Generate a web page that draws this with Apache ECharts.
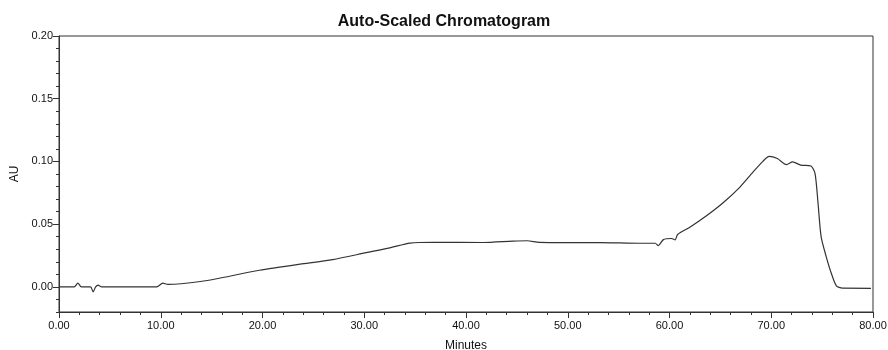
<!DOCTYPE html>
<html>
<head>
<meta charset="utf-8">
<script src="https://cdn.jsdelivr.net/npm/echarts@6/dist/echarts.min.js"></script>
<style>
  html, body { margin: 0; padding: 0; background: #fff; }
  #chart { width: 888px; height: 350px; }
</style>
</head>
<body>
<div id="chart"></div>
<script>
// retention time (minutes) and detector response (AU)
const minutes = [
  0, 1.5, 1.85, 2.2, 3.1, 3.35, 3.6, 3.85, 4.2, 6, 8, 9.6, 10.2, 10.7, 12,
  13.9, 15.5, 17.1, 18.5, 19.7, 21.5, 23.7, 26.9, 30.2, 32.5, 34.5, 36.8,
  41.7, 44.6, 46.0, 47.2, 49.9, 53.1, 57.1, 58.6, 58.9, 59.4, 60.2, 60.55,
  60.8, 62.0, 63.6, 65.3, 66.9, 68.2, 69.2, 69.8, 70.6, 71.5, 72.1, 72.9,
  73.9, 74.3, 74.6, 74.9, 75.4, 75.9, 76.4, 77.0, 79.8
]
const au = [
  0.000, 0.000, 0.003, 0.000, 0.000, -0.004, 0.000, 0.0015, 0.000, 0.000, 0.000, 0.000, 0.003, 0.002, 0.0025,
  0.0043, 0.0065, 0.0091, 0.0115, 0.0133, 0.0155, 0.0181, 0.0218, 0.0273, 0.0311, 0.0349, 0.0356,
  0.0354, 0.0365, 0.0368, 0.0355, 0.0353, 0.0353, 0.0348, 0.0348, 0.0329, 0.0377, 0.0386, 0.0375,
  0.0418, 0.0476, 0.0565, 0.0673, 0.0794, 0.0915, 0.1003, 0.1041, 0.1023, 0.0975, 0.0997, 0.0971,
  0.0964, 0.0905, 0.0666, 0.0401, 0.0242, 0.0109, 0.0009, -0.0010, -0.0011
]
const yMajorTicks = [0, 0.05, 0.1, 0.15, 0.2]

const textColor = '#111'
const lineColor = '#333'
const font = 'Liberation Sans, Arial, sans-serif'

const myChart = echarts.init(document.getElementById('chart'))

const option = {
  animation: false,
  backgroundColor: '#fff',
  title: {
    text: 'Auto-Scaled Chromatogram',
    left: 'center',
    top: 9,
    textStyle: {
      color: textColor,
      fontFamily: font,
      fontSize: 16,
      fontWeight: 'bold'
    }
  },
  grid: {
    left: 59,
    right: 15,
    top: 36,
    bottom: 38,
    outerBoundsMode: 'none',
    show: true,
    borderColor: lineColor,
    borderWidth: 1
  },
  xAxis: {
    type: 'value',
    min: 0,
    max: 80,
    interval: 10,
    name: 'Minutes',
    nameLocation: 'middle',
    nameGap: 28,
    nameTextStyle: { color: textColor, fontFamily: font, fontSize: 12 },
    axisLine: { show: true, onZero: false, lineStyle: { color: lineColor } },
    axisTick: { show: true, length: 6, lineStyle: { color: lineColor } },
    minorTick: { show: true, splitNumber: 5, length: 3, lineStyle: { color: lineColor } },
    axisLabel: {
      color: textColor,
      fontFamily: font,
      fontSize: 11,
      margin: 8,
      formatter: (v) => v.toFixed(2)
    },
    splitLine: { show: false }
  },
  yAxis: [
    {
      type: 'value',
      min: -0.02,
      max: 0.2,
      name: 'AU',
      nameLocation: 'middle',
      nameGap: 32,
      nameTextStyle: { color: textColor, fontFamily: font, fontSize: 12 },
      axisLine: { show: true, onZero: false, lineStyle: { color: lineColor } },
      axisTick: { show: true, length: 6, customValues: yMajorTicks, lineStyle: { color: lineColor } },
      axisLabel: {
        color: textColor,
        fontFamily: font,
        fontSize: 11,
        margin: 6,
        customValues: yMajorTicks,
        formatter: (v) => v.toFixed(2)
      },
      splitLine: { show: false }
    },
    {
      // minor ticks every 0.01
      type: 'value',
      position: 'left',
      min: -0.02,
      max: 0.2,
      interval: 0.01,
      axisLine: { show: false },
      axisTick: { show: true, length: 3, lineStyle: { color: lineColor } },
      axisLabel: { show: false },
      splitLine: { show: false }
    }
  ],
  series: [
    {
      type: 'line',
      yAxisIndex: 0,
      data: minutes.map((t, i) => [t, au[i]]),
      symbol: 'none',
      smooth: 0.25,
      lineStyle: { color: lineColor, width: 1.2 }
    }
  ]
}

myChart.setOption(option)
</script>
</body>
</html>
